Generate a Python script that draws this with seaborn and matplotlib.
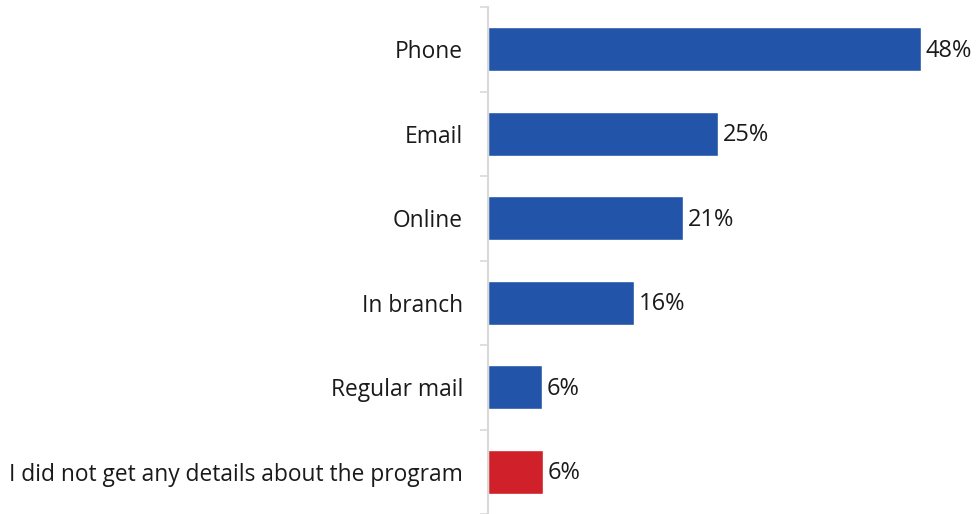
import numpy as np
import pandas as pd
import matplotlib
matplotlib.use("Agg")
import matplotlib.pyplot as plt
import seaborn as sns

# data
categories = ["Phone", "Email", "Online", "In branch", "Regular mail",
              "I did not get any details about the program"]
values = [48.0, 25.5, 21.6, 16.2, 6.0, 6.1]
value_labels = ["48%", "25%", "21%", "16%", "6%", "6%"]
colors = ["#2255A9", "#2255A9", "#2255A9", "#2255A9", "#2255A9", "#D0202A"]

df = pd.DataFrame({"category": categories, "value": values})

sns.set_style("white")
plt.rcParams['font.family'] = ['Open Sans', 'DejaVu Sans']
plt.rcParams['font.size'] = 16

fig = plt.figure(figsize=(9.79, 5.14), dpi=100)
ax = fig.add_axes([488 / 979, 0, 1 - 488 / 979, 507 / 514])

sns.barplot(data=df, x="value", y="category", hue="category",
            palette=colors, legend=False, width=0.52, ax=ax, saturation=1)

for i, (v, lab) in enumerate(zip(values, value_labels)):
    ax.text(v + 0.5, i + 0.02, lab, va="center", ha="left", fontsize=17, color="#1a1a1a")

ax.set_xlim(0, 54.4)
ax.set_ylim(5.5, -0.5)
ax.set_xlabel("")
ax.set_ylabel("")
ax.set_xticks([])

for s in ["top", "right", "bottom"]:
    ax.spines[s].set_visible(False)
ax.spines["left"].set_color("#D9D9D9")
ax.spines["left"].set_linewidth(1.5)

ax.tick_params(axis="y", which="major", length=0, pad=18, labelsize=16.4, labelcolor="#1a1a1a")
ax.set_yticks(np.arange(-0.5, 6.0, 1.0), minor=True)
ax.tick_params(axis="y", which="minor", length=6, width=1.2, color="#D9D9D9", left=True)

fig.savefig("out.png", dpi=100)
